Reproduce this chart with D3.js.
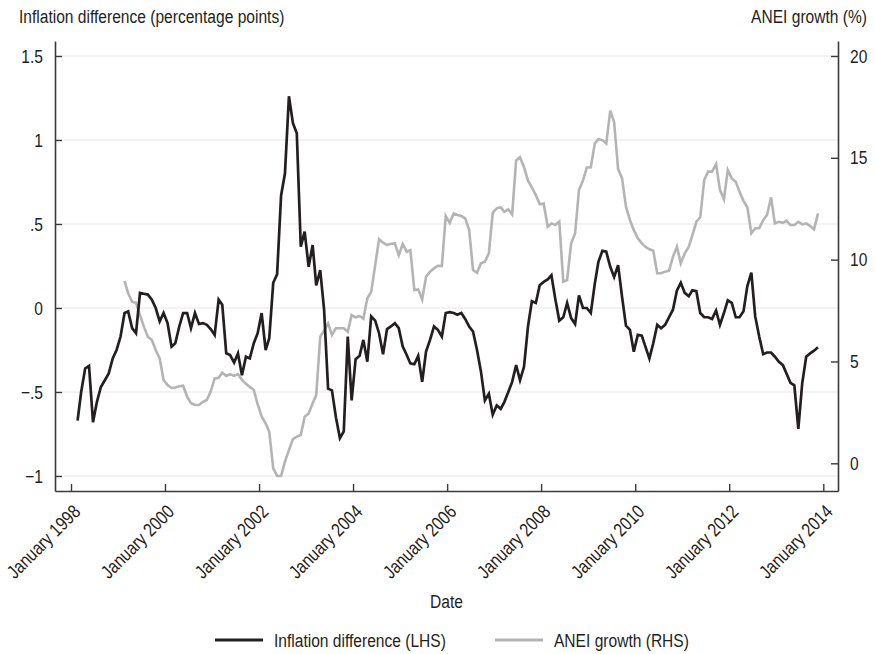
<!DOCTYPE html>
<html>
<head>
<meta charset="utf-8">
<script src="https://cdn.jsdelivr.net/npm/d3@7"></script>
<style>
  html, body { margin: 0; padding: 0; background: #fff; }
  svg { display: block; }
  text { font-family: 'Liberation Sans', Arial, sans-serif; fill: #231f20; }
</style>
</head>
<body>
<svg id="chart" width="875" height="654"></svg>
<script>
// Monthly inflation difference (percentage points), first observation February 1998
const inflationStart = "1998-02";
const inflationDiff = [
  -0.67, -0.50, -0.36, -0.345, -0.68, -0.56, -0.47, -0.43, -0.39, -0.30,
  -0.25, -0.17, -0.03, -0.02, -0.12, -0.15, 0.09, 0.085, 0.08, 0.05,
  0.00, -0.08, -0.03, -0.09, -0.23, -0.21, -0.11, -0.03, -0.03, -0.12,
  -0.03, -0.095, -0.09, -0.10, -0.125, -0.16, 0.05, 0.02, -0.27, -0.28,
  -0.325, -0.27, -0.40, -0.29, -0.30, -0.21, -0.15, -0.03, -0.25, -0.18,
  0.15, 0.20, 0.67, 0.80, 1.26, 1.10, 1.04, 0.365, 0.455, 0.245,
  0.375, 0.135, 0.225, -0.01, -0.48, -0.49, -0.65, -0.775, -0.735, -0.17,
  -0.55, -0.305, -0.285, -0.19, -0.32, -0.05, -0.075, -0.15, -0.275, -0.125,
  -0.11, -0.09, -0.12, -0.23, -0.28, -0.33, -0.335, -0.285, -0.44, -0.26,
  -0.19, -0.11, -0.13, -0.17, -0.03, -0.025, -0.03, -0.04, -0.03, -0.065,
  -0.11, -0.14, -0.25, -0.38, -0.55, -0.51, -0.635, -0.58, -0.60, -0.56,
  -0.50, -0.44, -0.34, -0.43, -0.35, -0.11, 0.04, 0.03, 0.135, 0.155,
  0.17, 0.195, 0.05, -0.075, -0.055, 0.03, -0.06, -0.095, 0.075, 0.00,
  0.00, -0.03, 0.145, 0.275, 0.34, 0.335, 0.245, 0.185, 0.255, 0.065,
  -0.105, -0.13, -0.26, -0.16, -0.165, -0.23, -0.30, -0.21, -0.10, -0.12,
  -0.10, -0.055, -0.01, 0.105, 0.15, 0.09, 0.07, 0.105, 0.10, -0.03,
  -0.055, -0.055, -0.065, -0.015, -0.10, -0.03, 0.045, 0.03, -0.055, -0.055,
  -0.02, 0.13, 0.21, -0.05, -0.17, -0.275, -0.265, -0.265, -0.29, -0.32,
  -0.34, -0.39, -0.445, -0.46, -0.72, -0.45, -0.29, -0.27, -0.254, -0.234
];

// Monthly ANEI growth (%), first observation February 1999
const aneiStart = "1999-02";
const aneiGrowth = [
  8.96, 8.35, 7.93, 7.88, 7.28, 6.71, 6.22, 6.05, 5.56, 5.15,
  4.09, 3.84, 3.70, 3.72, 3.78, 3.81, 3.27, 2.95, 2.86, 2.86,
  3.02, 3.11, 3.52, 4.17, 4.20, 4.45, 4.29, 4.38, 4.29, 4.38,
  4.10, 3.90, 3.75, 3.60, 2.90, 2.30, 1.96, 1.55, -0.25, -0.62,
  -0.62, 0.08, 0.65, 1.19, 1.31, 1.39, 2.29, 2.45, 2.95, 3.35,
  6.22, 6.51, 6.87, 6.30, 6.63, 6.63, 6.63, 6.46, 7.28, 7.17,
  7.23, 7.10, 8.10, 8.42, 9.73, 11.0, 10.83, 10.72, 10.78, 10.80,
  10.22, 10.77, 10.39, 10.47, 8.51, 8.54, 8.05, 9.16, 9.41, 9.57,
  9.70, 9.69, 12.14, 11.81, 12.27, 12.19, 12.14, 12.03, 11.45, 9.49,
  9.36, 9.82, 9.90, 10.31, 12.30, 12.52, 12.57, 12.35, 12.47, 12.22,
  14.87, 15.03, 14.54, 13.88, 13.55, 13.17, 12.72, 12.76, 11.62, 11.78,
  11.70, 11.87, 8.92, 9.00, 10.80, 11.29, 13.42, 13.88, 14.53, 14.54,
  15.71, 15.91, 15.87, 15.71, 17.31, 16.75, 14.45, 13.99, 12.60, 11.94,
  11.45, 11.05, 10.80, 10.63, 10.51, 10.44, 9.33, 9.33, 9.41, 9.46,
  10.14, 10.63, 9.82, 10.31, 10.63, 11.21, 11.86, 12.08, 13.91, 14.32,
  14.32, 14.69, 13.42, 12.96, 14.40, 13.99, 13.82, 13.33, 12.89, 12.57,
  11.29, 11.54, 11.54, 11.94, 12.19, 13.06, 11.78, 11.86, 11.81, 11.91,
  11.70, 11.70, 11.86, 11.73, 11.78, 11.65, 11.49, 12.27
];

// Axis ticks and labels
const leftTicks = [-1, -0.5, 0, 0.5, 1, 1.5];
const leftTickLabels = ["\u22121", "\u2212.5", "0", ".5", "1", "1.5"];
const rightTicks = [0, 5, 10, 15, 20];
const rightTickLabels = ["0", "5", "10", "15", "20"];
const xTickYears = [1998, 2000, 2002, 2004, 2006, 2008, 2010, 2012, 2014];
const xTickLabels = xTickYears.map(y => "January " + y);

const seriesNames = ["Inflation difference (LHS)", "ANEI growth (RHS)"];
const leftTitle = "Inflation difference (percentage points)";
const rightTitle = "ANEI growth (%)";
const xTitle = "Date";

const INK = "#231f20";
const GREY = "#b4b4b4";
const AXIS = "#3a3a3a";
const FONT_SIZE = "19px";
const NARROW = 0.82;   // horizontal squeeze giving a condensed face

const svg = d3.select("#chart");
const plot = { left: 55, right: 838, top: 41, bottom: 491 };

// Monthly observations are plotted late in their month
const parseMonth = d3.timeParse("%Y-%m");
function monthlySeries(start, values) {
  const t0 = parseMonth(start);
  return values.map((v, i) => ({ date: d3.timeDay.offset(d3.timeMonth.offset(t0, i), 20), value: v }));
}
const inflation = monthlySeries(inflationStart, inflationDiff);
const anei = monthlySeries(aneiStart, aneiGrowth);

// Time scale: January 1998 and January 2014 anchor the tick range; the frame runs a little past both
const x = d3.scaleTime()
  .domain([new Date(1998, 0, 1), new Date(2014, 0, 1)])
  .range([71, 823.3]);
x.domain([x.invert(plot.left), x.invert(plot.right)]).range([plot.left, plot.right]);

const yL = d3.scaleLinear().domain([-1, 1.5]).range([476, 56]);
yL.domain([yL.invert(plot.bottom), yL.invert(plot.top)]).range([plot.bottom, plot.top]);

const yR = d3.scaleLinear().domain([0, 20]).range([463.3, 56]);
yR.domain([yR.invert(plot.bottom), yR.invert(plot.top)]).range([plot.bottom, plot.top]);

// Horizontal gridlines at the left-axis ticks
svg.append("g")
  .selectAll("line")
  .data(leftTicks)
  .join("line")
  .attr("x1", plot.left).attr("x2", plot.right)
  .attr("y1", d => yL(d)).attr("y2", d => yL(d))
  .attr("stroke", "#efefef")
  .attr("stroke-width", 1.5);

// Series lines
const lineL = d3.line().x(d => x(d.date)).y(d => yL(d.value));
const lineR = d3.line().x(d => x(d.date)).y(d => yR(d.value));

svg.append("path")
  .datum(anei)
  .attr("d", lineR)
  .attr("fill", "none")
  .attr("stroke", GREY)
  .attr("stroke-width", 2.6)
  .attr("stroke-linejoin", "miter");

svg.append("path")
  .datum(inflation)
  .attr("d", lineL)
  .attr("fill", "none")
  .attr("stroke", INK)
  .attr("stroke-width", 2.7)
  .attr("stroke-linejoin", "miter");

// Axes: ticks point into the plot
function styleAxis(g) {
  g.selectAll(".domain").attr("stroke", AXIS).attr("stroke-width", 1.6);
  g.selectAll(".tick line").attr("stroke", AXIS).attr("stroke-width", 1.4);
  g.selectAll("text").attr("fill", INK).style("font-size", FONT_SIZE)
    .attr("font-family", null);
}

svg.append("g")
  .attr("transform", `translate(${plot.left},0)`)
  .call(d3.axisLeft(yL).tickValues(leftTicks)
    .tickFormat((d, i) => leftTickLabels[i])
    .tickSizeInner(-7).tickSizeOuter(0).tickPadding(12))
  .call(styleAxis);

svg.append("g")
  .attr("transform", `translate(${plot.right},0)`)
  .call(d3.axisRight(yR).tickValues(rightTicks)
    .tickFormat((d, i) => rightTickLabels[i])
    .tickSizeInner(-7).tickSizeOuter(0).tickPadding(12))
  .call(styleAxis);

const xAxis = svg.append("g")
  .attr("transform", `translate(0,${plot.bottom})`)
  .call(d3.axisBottom(x)
    .tickValues(xTickYears.map(y => new Date(y, 0, 1)))
    .tickFormat((d, i) => xTickLabels[i])
    .tickSizeInner(-7).tickSizeOuter(0))
  .call(styleAxis);

xAxis.selectAll(".tick text")
  .attr("x", 0).attr("y", 0).attr("dy", 0)
  .attr("text-anchor", "end")
  .attr("transform", "translate(10,22) rotate(-45)");

// Titles
svg.append("text")
  .attr("x", 19).attr("y", 23)
  .style("font-size", FONT_SIZE)
  .text(leftTitle);

svg.append("text")
  .attr("x", 867).attr("y", 23)
  .attr("text-anchor", "end")
  .style("font-size", FONT_SIZE)
  .text(rightTitle);

svg.append("text")
  .attr("x", (plot.left + plot.right) / 2).attr("y", 608)
  .attr("text-anchor", "middle")
  .style("font-size", FONT_SIZE)
  .text(xTitle);

// Legend
const legend = svg.append("g").attr("transform", "translate(0,640)");
const legendItems = [
  { name: seriesNames[0], color: INK, x0: 215 },
  { name: seriesNames[1], color: GREY, x0: 495 }
];
const li = legend.selectAll("g").data(legendItems).join("g")
  .attr("transform", d => `translate(${d.x0},0)`);
li.append("line")
  .attr("x1", 0).attr("x2", 48).attr("y1", 0).attr("y2", 0)
  .attr("stroke", d => d.color).attr("stroke-width", 2.8);
li.append("text")
  .attr("x", 59).attr("y", 7)
  .style("font-size", FONT_SIZE)
  .text(d => d.name);

// Condense every label horizontally about its own anchor
svg.selectAll("text").each(function () {
  const x0 = +(this.getAttribute("x") || 0);
  const t = this.getAttribute("transform") || "";
  this.setAttribute("x", (x0 / NARROW).toFixed(2));
  this.setAttribute("transform", `${t} scale(${NARROW},1)`.trim());
});
</script>
</body>
</html>
